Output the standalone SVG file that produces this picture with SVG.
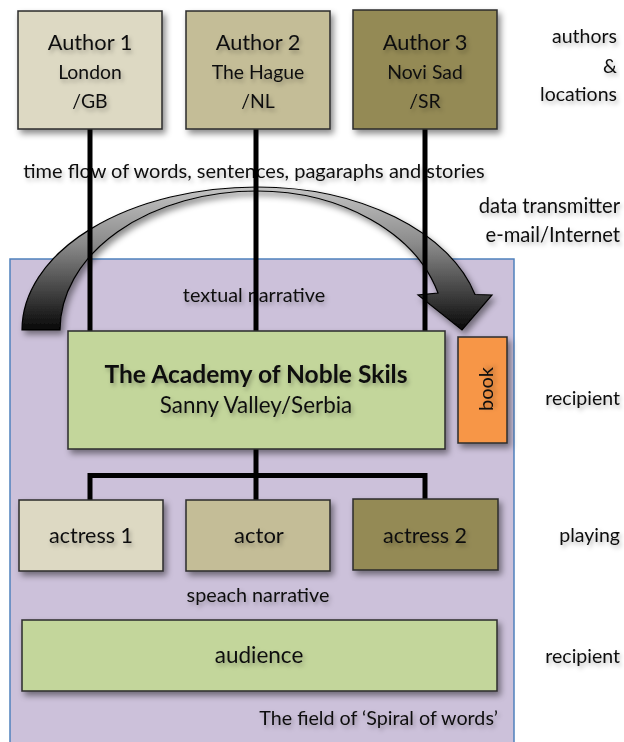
<svg xmlns="http://www.w3.org/2000/svg" width="624" height="742" viewBox="0 0 624 742">
<defs>
<filter id="bshadow" x="-20%" y="-20%" width="150%" height="150%">
<feDropShadow dx="3" dy="4" stdDeviation="3" flood-color="#000" flood-opacity="0.45"/>
</filter>
<filter id="tshadow" x="-10%" y="-30%" width="130%" height="180%">
<feDropShadow dx="2" dy="3" stdDeviation="2" flood-color="#000" flood-opacity="0.28"/>
</filter>
<linearGradient id="arrowGrad" x1="0" y1="187" x2="0" y2="330" gradientUnits="userSpaceOnUse">
<stop offset="0" stop-color="#c4c4c4"/>
<stop offset="0.4" stop-color="#8a8a8a"/>
<stop offset="1" stop-color="#080808"/>
</linearGradient>
<style>
.t{font-family:Lato,"Liberation Sans",sans-serif;fill:#111;filter:url(#tshadow)}
.m{text-anchor:middle}
.e{text-anchor:end}
.box{stroke:#2b2b2b;stroke-width:1.5;filter:url(#bshadow)}
.c1{fill:#ddd9c3}
.c2{fill:#c4bd97}
.c3{fill:#948a54}
.g{fill:#c3d69b}
.o{fill:#f79646}
.ln{fill:none;stroke:#000;stroke-width:5;stroke-linejoin:miter}
</style>
</defs>

<g id="field">
<rect x="10" y="259" width="504" height="495" fill="#ccc1da" stroke="#4f81bd" stroke-width="1.5"/>
</g>

<g id="labels">
<text class="t m" x="254" y="178" font-size="20">time flow of words, sentences, pagaraphs and stories</text>
<text class="t m" x="254" y="302" font-size="19.8">textual narrative</text>
<text class="t m" x="258" y="602" font-size="19.8">speach narrative</text>
<text class="t e" x="498" y="725" font-size="19.7">The field of ‘Spiral of words’</text>
<text class="t e" x="617" y="43" font-size="19.5">authors</text>
<text class="t e" x="617" y="73" font-size="19.5">&amp;</text>
<text class="t e" x="617" y="101" font-size="19.5">locations</text>
<text class="t e" x="620" y="213" font-size="20.2">data transmitter</text>
<text class="t e" x="620" y="242" font-size="20.2">e-mail/Internet</text>
<text class="t e" x="620" y="405" font-size="19.5">recipient</text>
<text class="t e" x="620" y="542" font-size="19.5">playing</text>
<text class="t e" x="620" y="663" font-size="19.5">recipient</text>
</g>

<g id="arrow">
<path d="M22 330 A235 143 0 0 1 257 187 A225 143 0 0 1 475 294.5 L492 295 L462 330 L418 295 L438 293 A188 139 0 0 0 257 191 A197 139 0 0 0 60 330 Z" fill="url(#arrowGrad)" stroke="#000" stroke-width="1.2" filter="url(#bshadow)"/>
</g>

<g id="connectors">
<line class="ln" x1="90" y1="129" x2="90" y2="331"/>
<line class="ln" x1="256" y1="129" x2="256" y2="331"/>
<line class="ln" x1="425" y1="129" x2="425" y2="331"/>
<line class="ln" x1="256" y1="449" x2="256" y2="500"/>
<polyline class="ln" points="90,500 90,475.5 425,475.5 425,500"/>
</g>

<g id="author1">
<rect class="box c1" x="18" y="11" width="144" height="118"/>
<text class="t m" x="90" y="50" font-size="21.8">Author 1</text>
<text class="t m" x="90" y="79" font-size="19.4">London</text>
<text class="t m" x="90" y="108" font-size="19.4">/GB</text>
</g>
<g id="author2">
<rect class="box c2" x="186" y="11" width="144" height="118"/>
<text class="t m" x="258" y="50" font-size="21.8">Author 2</text>
<text class="t m" x="258" y="79" font-size="19.4">The Hague</text>
<text class="t m" x="258" y="108" font-size="19.4">/NL</text>
</g>
<g id="author3">
<rect class="box c3" x="353" y="10" width="144" height="119"/>
<text class="t m" x="425" y="50" font-size="21.8">Author 3</text>
<text class="t m" x="425" y="79" font-size="19.4">Novi Sad</text>
<text class="t m" x="425" y="108" font-size="19.4">/SR</text>
</g>

<g id="academy">
<rect class="box g" x="68" y="331" width="377" height="118"/>
<text class="t m" x="256" y="383" font-size="24.6" font-weight="bold">The Academy of Noble Skils</text>
<text class="t m" x="256" y="413" font-size="22.4">Sanny Valley/Serbia</text>
</g>

<g id="book">
<rect class="box o" x="458" y="337" width="49" height="106"/>
<text class="t m" transform="translate(493 389) rotate(-90)" font-size="20">book</text>
</g>

<g id="actress1">
<rect class="box c1" x="19" y="500" width="144" height="71"/>
<text class="t m" x="91" y="543" font-size="21.5">actress 1</text>
</g>
<g id="actor">
<rect class="box c2" x="186" y="500" width="144" height="71"/>
<text class="t m" x="259" y="543" font-size="22">actor</text>
</g>
<g id="actress2">
<rect class="box c3" x="353" y="499" width="145" height="71"/>
<text class="t m" x="425" y="543" font-size="21.5">actress 2</text>
</g>

<g id="audience">
<rect class="box g" x="22" y="620" width="475" height="71"/>
<text class="t m" x="259" y="663" font-size="22.5">audience</text>
</g>
</svg>
